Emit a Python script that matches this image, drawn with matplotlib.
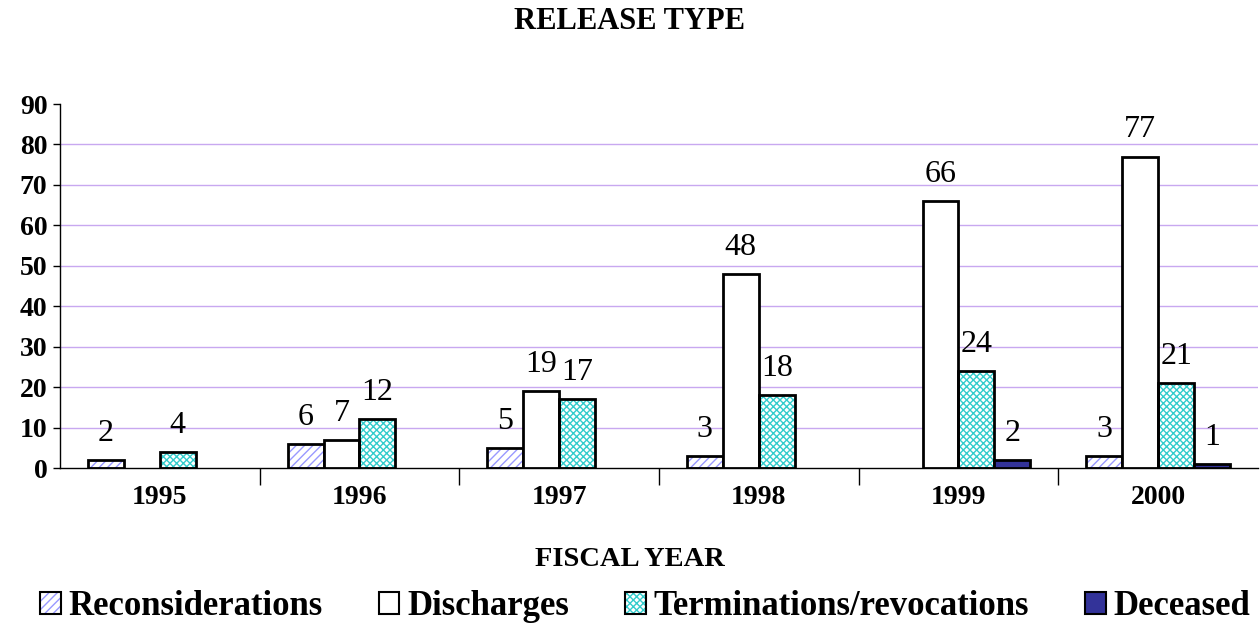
import numpy as np
import matplotlib.pyplot as plt
from matplotlib.patches import Patch
from matplotlib.legend_handler import HandlerTuple

plt.rcParams['font.family'] = ['Liberation Serif', 'DejaVu Serif']
plt.rcParams['hatch.linewidth'] = 1.0

years = ['1995', '1996', '1997', '1998', '1999', '2000']
series = ['Reconsiderations', 'Discharges', 'Terminations/revocations', 'Deceased']
reconsiderations = [2, 6, 5, 3, None, 3]
discharges = [None, 7, 19, 48, 66, 77]
terminations = [4, 12, 17, 18, 24, 21]
deceased = [None, None, None, None, 2, 1]

values = [reconsiderations, discharges, terminations, deceased]
faces = ['white', 'white', 'white', '#333399']
hatches = ['////', None, 'xxxxx', None]
hatch_colors = ['#9999ff', None, '#33cccc', None]

fig = plt.figure(figsize=(12.6, 6.25), dpi=100)
ax = fig.add_axes([0.0476, 0.2512, 0.9508, 0.5824])

x = np.arange(len(years))
width = 0.18
for i, vals in enumerate(values):
    offs = (i - 1.5) * width
    xs = [x[j] + offs for j, v in enumerate(vals) if v is not None]
    hs = [v for v in vals if v is not None]
    if hatches[i]:
        ax.bar(xs, hs, width, color='white', edgecolor=hatch_colors[i],
               hatch=hatches[i], linewidth=0, zorder=2)
        ax.bar(xs, hs, width, fill=False, edgecolor='black', linewidth=2, zorder=3)
    else:
        ax.bar(xs, hs, width, color=faces[i], edgecolor='black', linewidth=2, zorder=3)
    for xx, h in zip(xs, hs):
        ax.text(xx, h + 3, str(h), ha='center', va='bottom', fontsize=23)

ax.set_xlim(-0.5, len(years) - 0.5)
ax.set_ylim(0, 90)
ax.set_yticks(range(0, 91, 10))
ax.set_yticklabels([str(v) for v in range(0, 91, 10)], fontsize=20, fontweight='bold')
for v in range(10, 90, 10):
    ax.axhline(v, color='#c8a8f0', linewidth=1, zorder=1)

ax.set_xticks(x)
ax.set_xticklabels(years, fontsize=20, fontweight='bold')
ax.tick_params(axis='x', length=0, pad=12)
ax.set_xticks(np.arange(0.5, len(years) - 0.5, 1), minor=True)
ax.tick_params(axis='x', which='minor', length=12, width=1, direction='out')
ax.tick_params(axis='y', length=5, width=1, direction='out', pad=4)

for s in ['top', 'right']:
    ax.spines[s].set_visible(False)
ax.spines['left'].set_linewidth(1)
ax.spines['bottom'].set_linewidth(1)

fig.text(0.5, 0.966, 'RELEASE TYPE', ha='center', va='center', fontsize=22, fontweight='bold')
fig.text(0.5, 0.105, 'FISCAL YEAR', ha='center', va='center', fontsize=20.5, fontweight='bold')

handles = []
for i, name in enumerate(series):
    if hatches[i]:
        handles.append((Patch(facecolor='white', edgecolor=hatch_colors[i], hatch=hatches[i], linewidth=0),
                        Patch(fill=False, edgecolor='black', linewidth=1.5)))
    else:
        handles.append(Patch(facecolor=faces[i], edgecolor='black', linewidth=1.5))
leg = fig.legend(handles=handles, labels=series, loc='center', bbox_to_anchor=(0.512, 0.029), ncol=4,
                 frameon=False, prop={'size': 25, 'weight': 'bold'},
                 handler_map={tuple: HandlerTuple(ndivide=1)},
                 handlelength=0.6, handleheight=0.6, handletextpad=0.23, columnspacing=1.6,
                 borderpad=0.1)

fig.savefig('out.png', dpi=100)
